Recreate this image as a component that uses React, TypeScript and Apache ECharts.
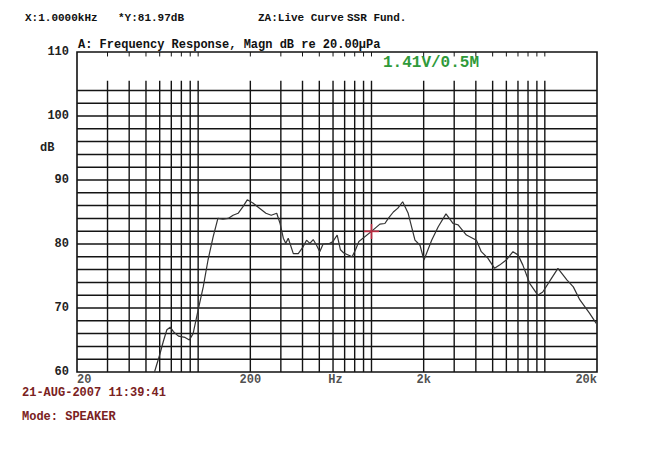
import React, { useEffect, useRef } from "react";
import * as echarts from "echarts";

// Measured response (Hz, dB)
const freqHz = [56, 60, 63, 66, 69, 72, 77, 84, 89, 93.5, 100, 107, 114, 122, 130, 139, 149, 159, 170, 181, 192, 207, 226, 246, 264, 284, 297, 310, 320, 331, 354, 378, 404, 422, 441, 461, 482, 503, 526, 574, 600, 634, 662, 692, 773, 809, 846, 1000, 1118, 1195, 1250, 1337, 1420, 1513, 1628, 1782, 1905, 2008, 2224, 2427, 2690, 2960, 3160, 3530, 4030, 4300, 4690, 5130, 5480, 5990, 6550, 7000, 7470, 8160, 9110, 9730, 10900, 11900, 13400, 14600, 15900, 18100, 19800];
const levelDb = [60, 62.7, 64.8, 66.6, 67.0, 66.3, 65.6, 65.4, 65.0, 66.0, 69.7, 73.3, 77.5, 81.1, 84.0, 83.9, 84.0, 84.5, 84.8, 85.8, 86.9, 86.4, 85.6, 84.8, 84.5, 84.8, 83.2, 80.9, 80.1, 80.9, 78.5, 78.5, 79.6, 80.6, 80.1, 80.7, 79.8, 78.8, 80.0, 80.1, 80.4, 81.4, 79.1, 78.6, 78.0, 79.1, 80.4, 81.97, 83.1, 83.2, 84.0, 85.0, 85.6, 86.6, 84.8, 80.6, 79.8, 77.5, 80.6, 82.7, 84.7, 83.2, 83.0, 81.4, 80.6, 78.8, 77.8, 76.2, 76.7, 77.5, 78.8, 78.3, 76.7, 73.9, 72.0, 72.5, 74.6, 76.2, 74.4, 73.3, 71.3, 69.2, 67.6];

// Cursor
const cursorFreq = [1000];
const cursorDb = [81.97];

// Grid
const gridFreqs = [30, 40, 50, 60, 70, 80, 90, 100, 200, 300, 400, 500, 600, 700, 800, 900, 1000, 2000, 3000, 4000, 5000, 6000, 7000, 8000, 9000, 10000];
const gridLevels = [62, 64, 66, 68, 70, 72, 74, 76, 78, 80, 82, 84, 86, 88, 90, 92, 94, 96, 98, 100, 102, 104];
const xTickFreqs = [20, 200, 620, 2000, 20000];
const xTickLabels = ["20", "200", "Hz", "2k", "20k"];

const MONO = "'Liberation Mono', 'DejaVu Sans Mono', monospace";
const INK = "#141414";

export default function App() {
  const ref = useRef<HTMLDivElement>(null);
  useEffect(() => {
    if (!ref.current) return;
    const chart = echarts.init(ref.current, undefined, { renderer: "svg" });
    const lineItem = (p0: number[], p1: number[], w: number) => ({
      type: "line",
      shape: { x1: p0[0], y1: p0[1], x2: p1[0], y2: p1[1] },
      style: { stroke: INK, lineWidth: w },
    });
    const option: any = {
      animation: false,
      backgroundColor: "#ffffff",
      grid: {
        left: 77,
        right: 73,
        top: 52,
        bottom: 84,
        show: true,
        borderColor: "#111",
        borderWidth: 1.6,
        backgroundColor: "transparent",
      },
      xAxis: {
        type: "log",
        logBase: 10,
        min: 20,
        max: 20000,
        axisLine: { show: false },
        axisTick: { show: false },
        axisLabel: { show: false },
        splitLine: { show: false },
        minorSplitLine: { show: false },
      },
      yAxis: {
        type: "value",
        min: 60,
        max: 110,
        interval: 10,
        axisLine: { show: false },
        axisTick: { show: false },
        splitLine: { show: false },
        axisLabel: {
          margin: 8,
          color: "#222",
          fontFamily: MONO,
          fontWeight: "bold",
          fontSize: 12,
        },
      },
      graphic: [
        { type: "text", x: 25, y: 18, style: { text: "X:1.0000kHz", fill: "#111", font: `bold 11px ${MONO}`, verticalAlign: "middle" } },
        { type: "text", x: 118, y: 18, style: { text: "*Y:81.97dB", fill: "#111", font: `bold 11px ${MONO}`, verticalAlign: "middle" } },
        { type: "text", x: 258, y: 18, style: { text: "ZA:Live Curve", fill: "#111", font: `bold 11px ${MONO}`, verticalAlign: "middle" } },
        { type: "text", x: 347, y: 18, style: { text: "SSR Fund.", fill: "#111", font: `bold 11px ${MONO}`, verticalAlign: "middle" } },
        { type: "text", x: 78, y: 45, style: { text: "A: Frequency Response, Magn dB re 20.00µPa", fill: "#111", font: `bold 12px ${MONO}`, verticalAlign: "middle" } },
        { type: "text", x: 40, y: 148, style: { text: "dB", fill: "#222", font: `bold 12px ${MONO}`, verticalAlign: "middle" } },
        { type: "text", x: 383, y: 63, style: { text: "1.41V/0.5M", fill: "#2f9a3a", font: `bold 16px ${MONO}`, verticalAlign: "middle" } },
        { type: "text", x: 22, y: 393, style: { text: "21-AUG-2007 11:39:41", fill: "#7a2222", font: `bold 12px ${MONO}`, verticalAlign: "middle" } },
        { type: "text", x: 22, y: 417, style: { text: "Mode: SPEAKER", fill: "#7a2222", font: `bold 12px ${MONO}`, verticalAlign: "middle" } },
      ],
      series: [
        {
          type: "custom",
          silent: true,
          z: 1,
          data: gridLevels.map((v) => [20, v]),
          renderItem: (_p: any, api: any) =>
            lineItem(api.coord([20, api.value(1)]), api.coord([20000, api.value(1)]), 1.5),
        },
        {
          type: "custom",
          silent: true,
          z: 1,
          data: gridFreqs.map((f) => [f, 60]),
          renderItem: (_p: any, api: any) =>
            lineItem(api.coord([api.value(0), 60]), api.coord([api.value(0), 105.5]), 1.4),
        },
        {
          type: "custom",
          silent: true,
          z: 1,
          data: gridFreqs.map((f) => [f, 110]),
          renderItem: (_p: any, api: any) =>
            lineItem(api.coord([api.value(0), 110]), api.coord([api.value(0), 109.3]), 1),
        },
        {
          type: "line",
          data: freqHz.map((f, i) => [f, levelDb[i]]),
          showSymbol: false,
          symbol: "none",
          z: 3,
          lineStyle: { color: "#333", width: 1.2 },
        },
        {
          type: "scatter",
          z: 4,
          data: cursorFreq.map((f, i) => [f, cursorDb[i]]),
          symbol: "path://M0,6.2h14v1.6h-14z M6.2,0h1.6v14h-1.6z",
          symbolSize: 15,
          itemStyle: { color: "#e0304a" },
        },
        {
          type: "scatter",
          clip: false,
          z: 4,
          symbolSize: 1,
          itemStyle: { color: "transparent" },
          data: xTickFreqs.map((f, i) => ({
            value: [f, 60],
            label: {
              show: true,
              position: "bottom",
              distance: 1,
              formatter: xTickLabels[i],
              align: i === 0 ? "left" : i === xTickFreqs.length - 1 ? "right" : "center",
              color: "#222",
              fontFamily: MONO,
              fontWeight: "bold",
              fontSize: 12,
            },
          })),
        },
      ],
    };
    chart.setOption(option);
    return () => chart.dispose();
  }, []);
  return (
    <div
      ref={ref}
      style={{ position: "fixed", left: 0, top: 0, width: 670, height: 456, background: "#fff" }}
    />
  );
}
